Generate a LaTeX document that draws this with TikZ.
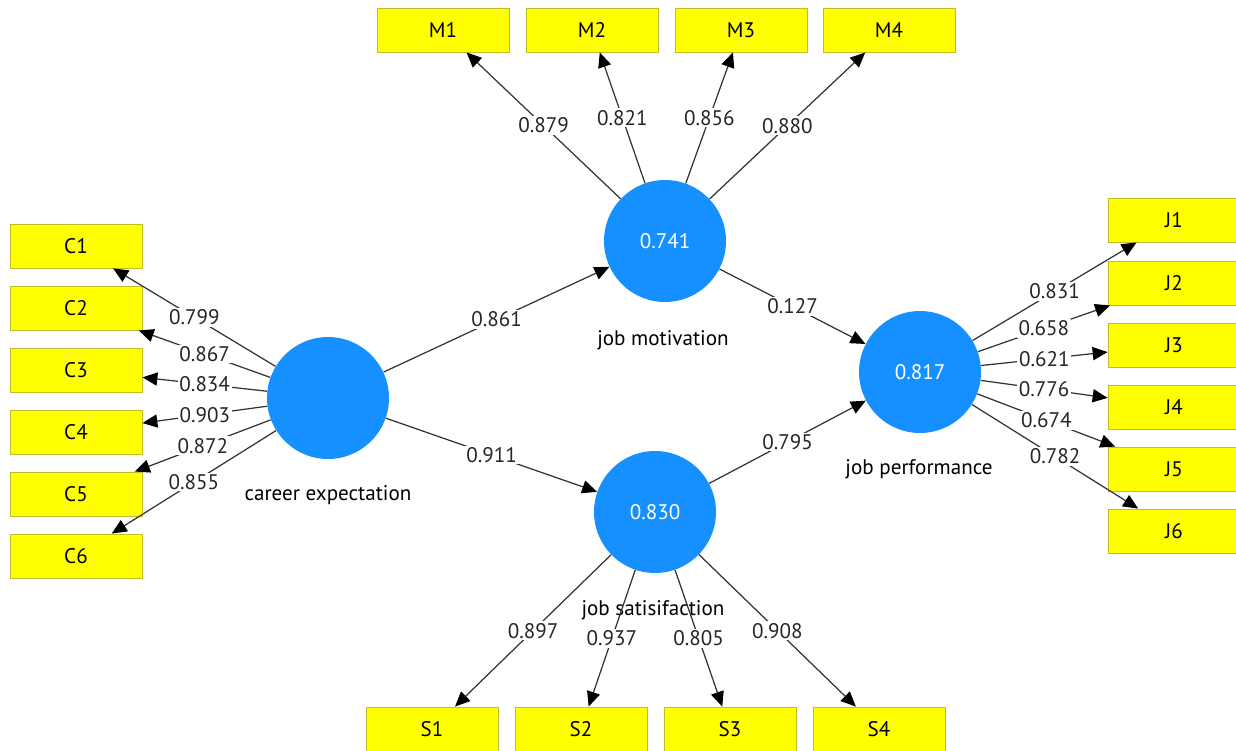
\documentclass[tikz,border=0pt]{standalone}
\usepackage{fontspec}
\setmainfont{PT Sans}
\usetikzlibrary{arrows.meta}

\definecolor{lvblue}{RGB}{22,144,255}
\definecolor{indyellow}{RGB}{255,255,0}
\definecolor{indborder}{RGB}{190,190,40}

\begin{document}
\begin{tikzpicture}[x=0.02cm, y=-0.02cm,
    every node/.style={font=\fontsize{12}{14}\selectfont},
    ind/.style={rectangle, draw=indborder, fill=indyellow, line width=0.5pt,
        minimum width=2.64cm, minimum height=0.88cm, inner sep=0pt},
    lv/.style={circle, fill=lvblue, minimum size=2.44cm, inner sep=0pt, text=white},
    arr/.style={-{Triangle[length=8.5pt,width=7.5pt,color=black]}, draw=black!80, line width=0.7pt},
    lbl/.style={fill=white, inner sep=1pt, text=black!85}]
    \clip (0, 0) rectangle (1236, 750);
    \fill[white] (0, 0) rectangle (1236, 750);

    % latent variables
    \node[lv] (ce) at (328, 398) {};
    \node[lv] (jm) at (665, 241) {0.741};
    \node[lv] (js) at (655, 512) {0.830};
    \node[lv] (jp) at (920, 372) {0.817};

    \node (celbl) at (328, 495) {career expectation};
    \node (jmlbl) at (663, 340) {job motivation};
    \node (jslbl) at (653, 610) {job satisifaction};
    \node (jplbl) at (919, 469) {job performance};

    % indicators
    \node[ind] (c1) at (76, 246) {C1};
    \node[ind] (c2) at (76, 308) {C2};
    \node[ind] (c3) at (76, 370) {C3};
    \node[ind] (c4) at (76, 432) {C4};
    \node[ind] (c5) at (76, 494) {C5};
    \node[ind] (c6) at (76, 556) {C6};

    \node[ind] (m1) at (443, 30) {M1};
    \node[ind] (m2) at (592, 30) {M2};
    \node[ind] (m3) at (741, 30) {M3};
    \node[ind] (m4) at (889, 30) {M4};

    \node[ind] (s1) at (432, 729) {S1};
    \node[ind] (s2) at (581, 729) {S2};
    \node[ind] (s3) at (730, 729) {S3};
    \node[ind] (s4) at (879, 729) {S4};

    \node[ind] (j1) at (1174, 220) {J1};
    \node[ind] (j2) at (1174, 283) {J2};
    \node[ind] (j3) at (1174, 345) {J3};
    \node[ind] (j4) at (1174, 407) {J4};
    \node[ind] (j5) at (1174, 469) {J5};
    \node[ind] (j6) at (1174, 531) {J6};

    % outer loadings
    \draw[arr] (ce) -- node[lbl] {0.799} (c1);
    \draw[arr] (ce) -- node[lbl] {0.867} (c2);
    \draw[arr] (ce) -- node[lbl] {0.834} (c3);
    \draw[arr] (ce) -- node[lbl] {0.903} (c4);
    \draw[arr] (ce) -- node[lbl] {0.872} (c5);
    \draw[arr] (ce) -- node[lbl] {0.855} (c6);

    \draw[arr] (jm) -- node[lbl] {0.879} (m1);
    \draw[arr] (jm) -- node[lbl] {0.821} (m2);
    \draw[arr] (jm) -- node[lbl] {0.856} (m3);
    \draw[arr] (jm) -- node[lbl] {0.880} (m4);

    \draw[arr] (js) -- node[lbl] {0.897} (s1);
    \draw[arr] (js) -- node[lbl] {0.937} (s2);
    \draw[arr] (js) -- node[lbl] {0.805} (s3);
    \draw[arr] (js) -- node[lbl] {0.908} (s4);

    \draw[arr] (jp) -- node[lbl] {0.831} (j1);
    \draw[arr] (jp) -- node[lbl] {0.658} (j2);
    \draw[arr] (jp) -- node[lbl] {0.621} (j3);
    \draw[arr] (jp) -- node[lbl] {0.776} (j4);
    \draw[arr] (jp) -- node[lbl] {0.674} (j5);
    \draw[arr] (jp) -- node[lbl] {0.782} (j6);

    % path coefficients
    \draw[arr] (ce) -- node[lbl] {0.861} (jm);
    \draw[arr] (ce) -- node[lbl] {0.911} (js);
    \draw[arr] (jm) -- node[lbl] {0.127} (jp);
    \draw[arr] (js) -- node[lbl] {0.795} (jp);
\end{tikzpicture}
\end{document}
